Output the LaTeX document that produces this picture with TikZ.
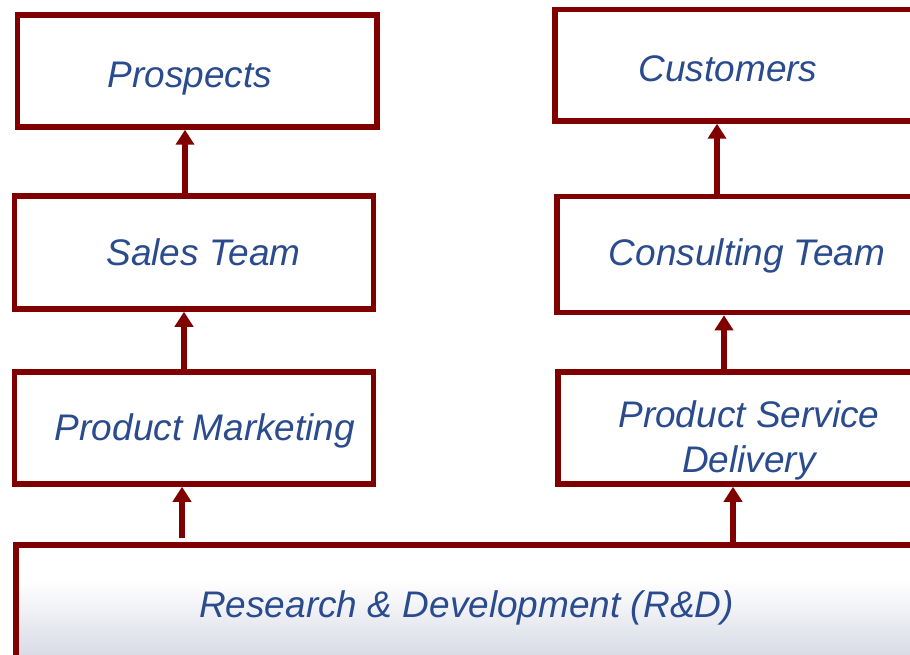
\documentclass[tikz,border=0pt]{standalone}
\usepackage{fontspec}
\setmainfont{Liberation Sans}
\usetikzlibrary{arrows.meta}
\definecolor{boxred}{HTML}{800000}
\definecolor{txtblue}{HTML}{2A4B8D}
\definecolor{gradc}{HTML}{D9DCE7}
\tikzset{
  box/.style={draw=boxred, line width=5.5pt, fill=white, inner sep=0pt, rectangle},
  lbl/.style={text=txtblue, font=\fontsize{37}{44}\selectfont\itshape, anchor=base, inner sep=0pt},
  arr/.style={draw=boxred, line width=5.7pt, -{Triangle[width=18pt,length=15pt]}}
}
\begin{document}
\begin{tikzpicture}[x=1pt,y=-1pt]
\useasboundingbox (0,0) rectangle (910,655);
\clip (0,0) rectangle (910,655);
% background gradient of the R&D box (white at y=580 to gradc at y=655)
\foreach \i in {0,...,37}{
  \pgfmathsetmacro{\pc}{\i/37*100}
  \fill[gradc!\pc!white] (16,{580+2*\i}) rectangle (950,{582.6+2*\i});
}
% boxes
\node[box, minimum width=359.5pt, minimum height=112pt] (prospects) at (197.25,71) {};
\node[box, minimum width=395pt, minimum height=111.5pt] (customers) at (752.5,65.25) {};
\node[box, minimum width=359pt, minimum height=113pt] (sales) at (194,252.5) {};
\node[box, minimum width=393pt, minimum height=116pt] (consult) at (753.5,254.5) {};
\node[box, minimum width=359pt, minimum height=112pt] (pm) at (194,428) {};
\node[box, minimum width=392pt, minimum height=112pt] (psd) at (754,428) {};
\node[box, fill=none, minimum width=934pt, minimum height=155pt] (rd) at (483,622.5) {};
% labels
\node[lbl] (tprospects) at (190,88) {Prospects};
\node[lbl] (tcustomers) at (728,82) {Customers};
\node[lbl] (tsales) at (203.5,265) {Sales Team};
\node[lbl] (tconsult) at (747,265) {Consulting Team};
\node[lbl] (tpm) at (205,440) {Product Marketing};
\node[lbl] (tpsd1) at (749,427) {Product Service};
\node[lbl] (tpsd2) at (749,472) {Delivery};
\node[lbl] (trd) at (466.5,617) {Research \& Development (R\&D)};
% arrow x positions
\coordinate (xa) at (185,0);
\coordinate (xb) at (717,0);
\coordinate (xc) at (184,0);
\coordinate (xd) at (724,0);
\coordinate (xe) at (182,0);
\coordinate (xf) at (733,0);
% connectors
\draw[arr] (sales.north -| xa) -- (prospects.south -| xa);
\draw[arr] (consult.north -| xb) -- (customers.south -| xb);
\draw[arr] (pm.north -| xc) -- (sales.south -| xc);
\draw[arr] (psd.north -| xd) -- (consult.south -| xd);
\draw[arr, shorten <=4pt] (rd.north -| xe) -- (pm.south -| xe);
\draw[arr] (rd.north -| xf) -- (psd.south -| xf);
\end{tikzpicture}
\end{document}
